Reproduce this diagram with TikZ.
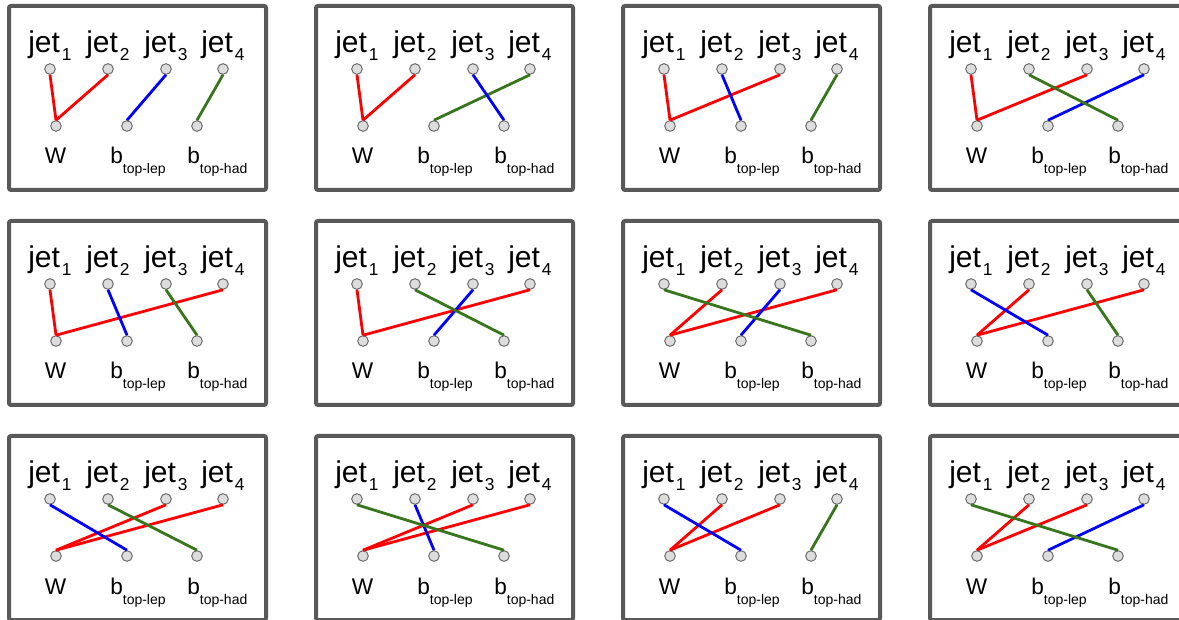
\documentclass[tikz,border=0pt]{standalone}
\usepackage{fontspec}
\setmainfont{Liberation Sans}
\usetikzlibrary{positioning}

\definecolor{framegray}{HTML}{595959}
\definecolor{dotgray}{HTML}{666666}
\definecolor{dotfill}{HTML}{DDDDDD}
\definecolor{wred}{HTML}{FF0000}
\definecolor{lepblue}{HTML}{0000FF}
\definecolor{hadgreen}{HTML}{38761D}

\newcommand{\jetsub}[1]{jet\hspace{1.5pt}\raisebox{-5.5pt}{\fontsize{13}{14}\selectfont #1}}
\newcommand{\bsub}[1]{b\raisebox{-7.5pt}{\fontsize{10.5}{12}\selectfont #1}}

\begin{document}
\begin{tikzpicture}[
    x=0.75pt, y=-0.75pt,
    frame/.style={draw=framegray, line width=3pt, rounded corners=1.5pt},
    dot/.style={circle, draw=dotgray, fill=dotfill, line width=0.7pt, minimum size=8pt, inner sep=0pt},
    link/.style={line width=2.1pt},
    jetlabel/.style={anchor=base west, inner sep=0pt, font=\fontsize{22.5}{24}\selectfont},
    objlabel/.style={anchor=base west, inner sep=0pt, font=\fontsize{17}{18}\selectfont}
  ]
  \useasboundingbox (0,0) rectangle (1179,620);
  \clip (0,0) rectangle (1179,620);

  % panel corner / panel / jets to W / jet to b_lep / jet to b_had
  \foreach \px/\py/\p/\wa/\wb/\lep/\lepcol/\had/\hadcol in {
      7/4/1/1/2/3/lepblue/4/hadgreen,
      314/4/2/1/2/4/hadgreen/3/lepblue,
      621/4/3/1/3/2/lepblue/4/hadgreen,
      928/4/4/1/3/4/lepblue/2/hadgreen,
      7/219/5/1/4/2/lepblue/3/hadgreen,
      314/219/6/1/4/3/lepblue/2/hadgreen,
      621/219/7/2/4/3/lepblue/1/hadgreen,
      928/219/8/2/4/1/lepblue/3/hadgreen,
      7/434/9/3/4/1/lepblue/2/hadgreen,
      314/434/10/3/4/2/lepblue/1/hadgreen,
      621/434/11/2/3/1/lepblue/4/hadgreen,
      928/434/12/2/3/4/lepblue/1/hadgreen}{
    \begin{scope}[shift={(\px,\py)}]
      \draw[frame] (2,2) rectangle (259,186);

      \foreach \k/\jx in {1/43, 2/101, 3/159, 4/216}{
        \node[dot] (p\p-j\k) at (\jx,65) {};
        \node[jetlabel] (p\p-lj\k) at (\jx-22,49) {\jetsub{\k}};
      }
      \node[dot] (p\p-W) at (49,122) {};
      \node[dot] (p\p-bl) at (120,122) {};
      \node[dot] (p\p-bh) at (190,122) {};
      \node[objlabel] (p\p-lW) at (37.5,160) {W};
      \node[objlabel] (p\p-llep) at (103,160) {\bsub{top-lep}};
      \node[objlabel] (p\p-lhad) at (180,160) {\bsub{top-had}};

      \draw[link, draw=wred] (p\p-j\wa.south) -- (p\p-W.north);
      \draw[link, draw=wred] (p\p-j\wb.south) -- (p\p-W.north);
      \draw[link, draw=\lepcol] (p\p-j\lep.south) -- (p\p-bl.north);
      \draw[link, draw=\hadcol] (p\p-j\had.south) -- (p\p-bh.north);
    \end{scope}
  }
\end{tikzpicture}
\end{document}
